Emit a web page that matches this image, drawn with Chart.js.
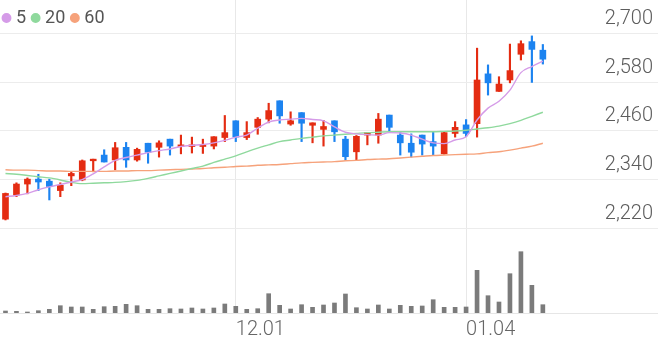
<!DOCTYPE html>
<html>
<head>
<meta charset="utf-8">
<script src="https://cdn.jsdelivr.net/npm/chart.js@4/dist/chart.umd.min.js"></script>
<style>
html,body{margin:0;padding:0;background:#ffffff;}
#wrap{position:relative;width:658px;height:342px;}
</style>
</head>
<body>
<div id="wrap"><canvas id="c"></canvas></div>
<script>
// ---- data ----
const xTickLabels = [
  '', '', '', '', '', '', '', '', '', '',
  '', '', '', '', '', '', '', '', '', '',
  '', '12.01', '', '', '', '', '', '', '', '',
  '', '', '', '', '', '', '', '', '', '',
  '', '', '01.04', '', '', '', '', '', '', '',
  '', '', '', '', '', '', '', '', '', ''
];
const openP  = [2244,2303,2330,2342,2337,2314,2350,2340,2387,2401,2389,2420,2389,2430,2420,2440,2422,2422,2422,2423,2444,2485,2444,2469,2489,2534,2477,2505,2474,2464,2485,2440,2409,2450,2450,2499,2450,2430,2450,2434,2404,2454,2475,2478,2600,2557,2585,2648,2679,2658];
const highP  = [2308,2333,2345,2354,2342,2333,2360,2389,2391,2414,2432,2432,2418,2430,2436,2440,2450,2445,2440,2446,2498,2485,2483,2493,2528,2534,2507,2505,2480,2486,2485,2447,2449,2456,2503,2499,2458,2453,2450,2458,2458,2483,2488,2663,2622,2593,2673,2681,2693,2672];
const lowP   = [2242,2299,2306,2314,2291,2299,2326,2338,2360,2384,2365,2371,2386,2381,2396,2401,2404,2406,2405,2416,2434,2434,2439,2452,2480,2479,2474,2434,2431,2423,2434,2389,2389,2426,2430,2458,2401,2396,2401,2400,2403,2445,2446,2445,2548,2557,2578,2634,2579,2624];
const closeP = [2307,2330,2342,2335,2324,2327,2356,2387,2391,2384,2419,2389,2415,2408,2431,2423,2426,2426,2426,2446,2456,2445,2456,2489,2510,2497,2485,2479,2480,2471,2458,2397,2447,2456,2489,2469,2431,2408,2428,2423,2456,2469,2454,2585,2578,2575,2608,2674,2660,2636];
const volume = [20,17,10,23,37,73,60,60,37,63,67,87,73,37,37,43,40,50,40,50,90,67,37,43,193,77,40,83,57,80,100,190,53,40,80,40,77,67,70,133,57,57,60,427,173,110,393,613,277,83];
const ma5  = [2299,2302,2307,2316,2323,2329,2335,2341,2355,2372,2388,2395,2401,2407,2412,2416,2422,2425,2427,2431,2437,2445,2450,2467,2482,2487,2489,2491,2488,2485,2470,2457,2453,2451,2450,2456,2455,2450,2440,2431,2429,2438,2446,2487,2516,2533,2560,2603,2618,2631];
const ma20 = [2356,2354,2351,2348,2345,2340,2334,2331,2332,2333,2334,2336,2339,2344,2350,2356,2362,2368,2374,2383,2391,2399,2409,2418,2426,2434,2438,2442,2445,2448,2450,2452,2454,2456,2457,2458,2458,2458,2458,2458,2459,2460,2462,2465,2468,2472,2478,2486,2496,2506];
const ma60 = [2365,2364,2364,2363,2362,2362,2361,2361,2361,2361,2362,2362,2363,2363,2364,2365,2366,2367,2368,2370,2371,2373,2374,2376,2377,2378,2380,2382,2383,2384,2385,2387,2388,2390,2391,2392,2394,2396,2398,2400,2401,2402,2403,2404,2407,2409,2413,2418,2423,2430];
const priceTicks = [2220, 2340, 2460, 2580, 2700];
const maNames = ['5', '20', '60'];

// ---- styles ----
const UP = '#e42c12', DOWN = '#1c83f0';
const MA_COLORS = ['#d59be8', '#8fd99d', '#f6a27b'];
const candleColor = (ctx) => closeP[ctx.dataIndex] >= openP[ctx.dataIndex] ? UP : DOWN;

const overlayLegend = {
  id: 'overlayLegend',
  beforeLayout(chart) {
    const lg = chart.legend;
    if (lg && !lg.__patched) {
      const fit = lg.fit;
      lg.fit = function () { fit.call(this); this.__h = this.height; this.height = 0; };
      lg.__patched = true;
    }
  },
  afterLayout(chart) {
    const lg = chart.legend;
    if (lg && lg.__h) {
      lg.left = -3; lg.right = lg.left + lg.width;
      lg.top = 0; lg.height = lg.__h; lg.bottom = lg.top + lg.__h;
    }
  }
};

const maDatasets = [ma5, ma20, ma60].map((d, k) => ({
  type: 'line', label: maNames[k], data: d,
  borderColor: MA_COLORS[k], backgroundColor: MA_COLORS[k],
  borderWidth: 1.4, pointRadius: 0, cubicInterpolationMode: 'monotone',
  yAxisID: 'y', order: 0
}));

new Chart(document.getElementById('c'), {
  type: 'bar',
  data: {
    labels: xTickLabels,
    datasets: [
      ...maDatasets,
      { label: 'body', data: openP.map((o, i) => [o, closeP[i]]), backgroundColor: candleColor,
        barThickness: 6, grouped: false, yAxisID: 'y', order: 1 },
      { label: 'wick', data: lowP.map((l, i) => [l, highP[i]]), backgroundColor: candleColor,
        barThickness: 1.5, grouped: false, yAxisID: 'y', order: 2 },
      { label: 'volume', data: volume, backgroundColor: '#7b7b7b',
        barThickness: 4, grouped: false, yAxisID: 'yv', order: 3 }
    ]
  },
  plugins: [overlayLegend],
  options: {
    responsive: true, maintainAspectRatio: false, animation: false,
    layout: { padding: 0 },
    plugins: {
      tooltip: { enabled: false },
      legend: {
        position: 'top', align: 'start',
        labels: {
          usePointStyle: true, pointStyle: 'circle', boxHeight: 6, boxWidth: 1, padding: 9,
          color: '#555555', font: { family: 'Roboto', size: 18 },
          filter: (item) => item.datasetIndex < 3
        }
      }
    },
    scales: {
      x: {
        type: 'category', offset: true,
        grid: { offset: false, drawTicks: false, lineWidth: 1,
          color: (ctx) => xTickLabels[ctx.index] ? '#e8e8e8' : 'rgba(0,0,0,0)' },
        border: { display: true, color: '#e6e6e6', width: 1 },
        ticks: { autoSkip: false, maxRotation: 0, minRotation: 0, align: 'start', padding: 5,
          color: '#666666', font: { family: 'Roboto', size: 20, weight: '300' } },
        afterFit: (s) => { s.paddingLeft = 0; s.paddingRight = 0; s.height = 29; }
      },
      y: {
        position: 'right', min: 2014, max: 2781,
        afterBuildTicks: (s) => { s.ticks = priceTicks.map((v) => ({ value: v })); },
        afterFit: (s) => { s.paddingTop = 0; s.paddingBottom = 0; s.width = 0; },
        grid: { color: '#ececec', drawTicks: false, lineWidth: 1 },
        border: { display: false },
        ticks: { mirror: true, padding: -5, labelOffset: -14.5, color: '#5c5c5c',
          font: { family: 'Roboto', size: 20, weight: '300' },
          callback: (v) => Number(v).toLocaleString('en-US') }
      },
      yv: { display: false, position: 'left', min: 0, max: 3130 }
    }
  }
});
</script>
</body>
</html>
